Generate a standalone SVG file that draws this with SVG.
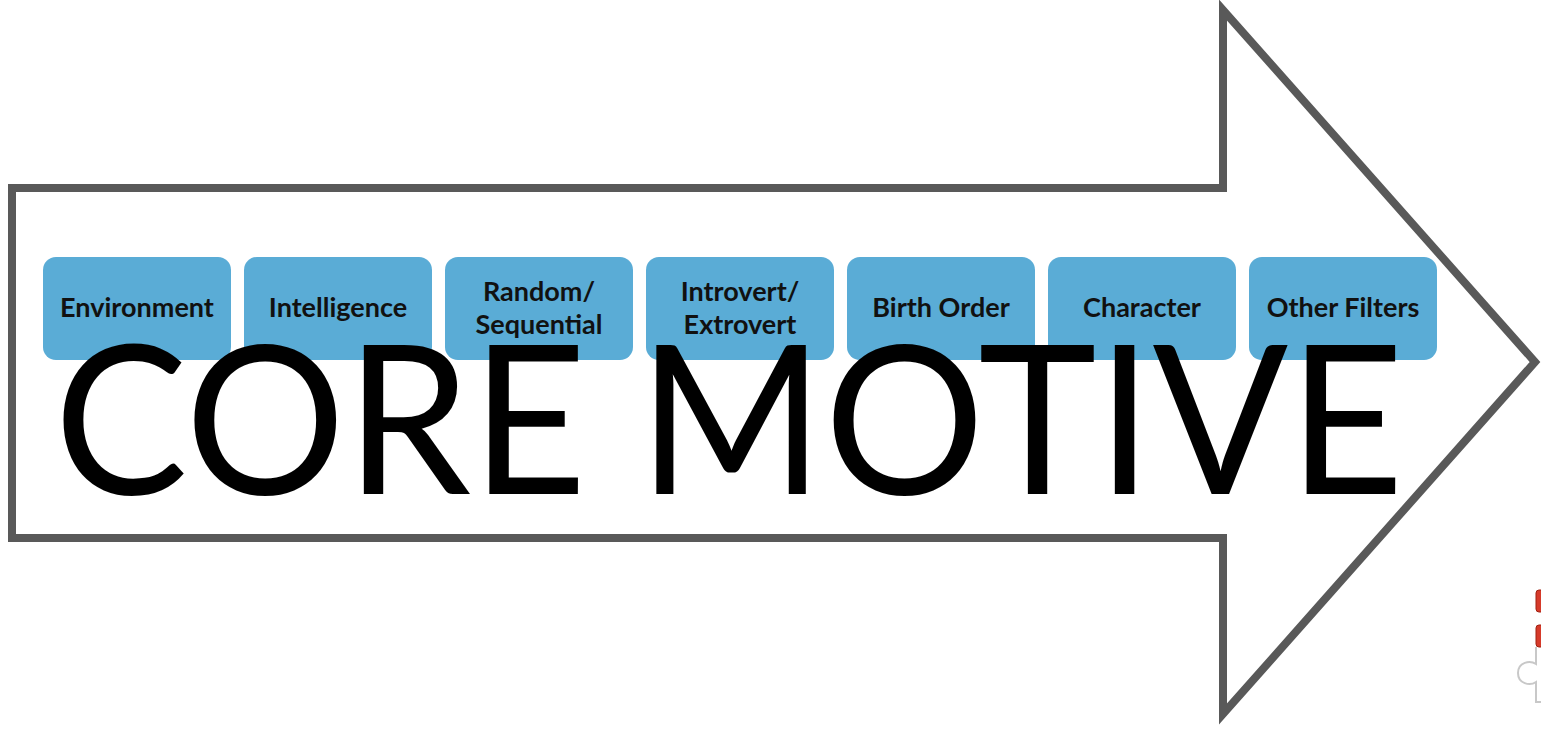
<svg xmlns="http://www.w3.org/2000/svg" width="1541" height="738" viewBox="0 0 1541 738">
<style>
.box{fill:#5AACD6;}
.lbl{font-family:Lato,"Liberation Sans",sans-serif;font-weight:bold;font-size:27px;fill:#111;text-anchor:middle;}
.big{font-family:Lato,"Open Sans",sans-serif;font-size:208px;fill:#000;}
</style>
<rect width="1541" height="738" fill="#fff"/>
<g id="arrow">
<path d="M12,188 L1223,188 L1223,10 L1535,362 L1223,714 L1223,538 L12,538 Z" fill="#fff" stroke="#595959" stroke-width="8" stroke-linejoin="miter" stroke-miterlimit="10"/>
</g>
<g id="n1"><rect class="box" x="43" y="257" width="188" height="103" rx="13"/><text class="lbl" x="137" y="317">Environment</text></g>
<g id="n2"><rect class="box" x="244" y="257" width="188" height="103" rx="13"/><text class="lbl" x="338" y="317">Intelligence</text></g>
<g id="n3"><rect class="box" x="445" y="257" width="188" height="103" rx="13"/><text class="lbl" x="539" y="301">Random/</text><text class="lbl" x="539" y="334">Sequential</text></g>
<g id="n4"><rect class="box" x="646" y="257" width="188" height="103" rx="13"/><text class="lbl" x="740" y="301">Introvert/</text><text class="lbl" x="740" y="334">Extrovert</text></g>
<g id="n5"><rect class="box" x="847" y="257" width="188" height="103" rx="13"/><text class="lbl" x="941" y="317">Birth Order</text></g>
<g id="n6"><rect class="box" x="1048" y="257" width="188" height="103" rx="13"/><text class="lbl" x="1142" y="317">Character</text></g>
<g id="n7"><rect class="box" x="1249" y="257" width="188" height="103" rx="13"/><text class="lbl" x="1343" y="317">Other Filters</text></g>
<g id="title"><text class="big" x="54" y="494" textLength="1350" lengthAdjust="spacingAndGlyphs">CORE MOTIVE</text></g>
<g id="puzzle">
<rect x="1536" y="590" width="10" height="22" rx="3" fill="#D63A2A" stroke="#A02010" stroke-width="1"/>
<rect x="1536" y="625" width="10" height="22" rx="3" fill="#D63A2A" stroke="#A02010" stroke-width="1"/>
<path d="M1536,647 L1536,664 C1530,660 1518,662 1518,673 C1518,684 1530,686 1536,682 L1536,702 L1541,702" fill="none" stroke="#C8C8C8" stroke-width="2"/>
</g>
<g id="connectors"></g>
</svg>
